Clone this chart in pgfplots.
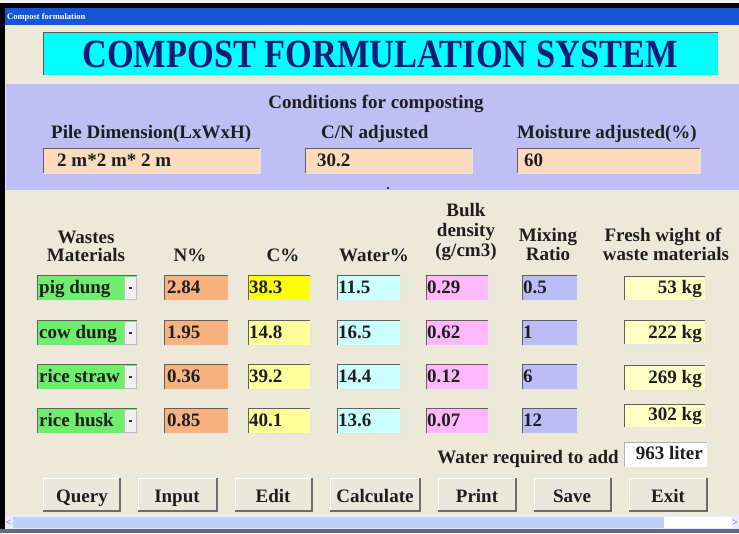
\documentclass[border=0pt]{standalone}
\usepackage{fontspec}
\setmainfont{Liberation Serif}
\usepackage{pgfplots}
\pgfplotsset{compat=1.18}
\definecolor{bg}{HTML}{ECE9D8}
\definecolor{titlebar}{HTML}{1656D6}
\definecolor{navy}{HTML}{101A78}
\definecolor{aqua}{HTML}{00FFFF}
\definecolor{panel}{HTML}{BFBFF5}
\definecolor{peach}{HTML}{FCDBBD}
\definecolor{combo}{HTML}{6DEE6D}
\definecolor{ncol}{HTML}{F8B27F}
\definecolor{cbright}{HTML}{FFFF00}
\definecolor{clight}{HTML}{FFFF9C}
\definecolor{wcol}{HTML}{CCFFFF}
\definecolor{bcol}{HTML}{FFB8FC}
\definecolor{mcol}{HTML}{BCBCF6}
\definecolor{fcol}{HTML}{FFFFC4}
\definecolor{btn}{HTML}{EAE7DB}
\definecolor{scroll}{HTML}{BCD2F4}
\definecolor{txt}{HTML}{1E1E1E}
\definecolor{bottomline}{HTML}{5A6E8C}
\newcommand{\valfont}{\fontsize{19}{19}\selectfont\bfseries}
\newcommand{\inbox}[5]{%
  \fill[#5] (#1,#2) rectangle (#3,#4);
  \draw[gray!75!black, line width=1pt] (#1,#4) -- (#1,#2) -- (#3,#2);
  \draw[white!80!gray, line width=0.8pt] (#3,#2) -- (#3,#4) -- (#1,#4);
}
\newcommand{\button}[4]{% x1 x2 xc label
  \fill[btn] (#1,478) rectangle (#2,511);
  \draw[white, line width=1pt] (#1,511) -- (#1,478) -- (#2,478);
  \draw[gray!85!black, line width=1.3pt] (#2,478) -- (#2,511) -- (#1,511);
  \node[anchor=base, inner sep=0pt, font=\valfont, text=txt] at (#3,502) {#4};
}
\begin{document}
\begin{tikzpicture}
\begin{axis}[
  hide axis, scale only axis,
  width=739pt, height=533pt,
  xmin=0, xmax=739, ymin=0, ymax=533,
  y dir=reverse, clip=false,
  nodes near coords style={inner sep=0pt, font=\valfont, text=txt},
]
% window frame
\fill[bg] (0,0) rectangle (739,533);
\fill[white!90!gray] (0,0) rectangle (739,3);
\fill[black] (0,3) rectangle (739,8);
\fill[titlebar] (5,8) rectangle (739,25);
\fill[black] (0,3) rectangle (5,533);
\node[anchor=base west, inner sep=0pt, text=white, font=\fontsize{8.5}{8.5}\selectfont\bfseries] at (7,19) {Compost formulation};
% title box
\fill[aqua] (43,32) rectangle (718,75);
\draw[gray!70!black, line width=1pt] (43,75) -- (43,32) -- (718,32);
\node[anchor=base, inner sep=0pt, text=navy, xscale=0.86, font=\fontsize{40}{40}\selectfont\bfseries] at (380,67) {COMPOST FORMULATION SYSTEM};
% conditions panel
\fill[panel] (6,84) rectangle (739,190);
\node[anchor=base, inner sep=0pt, font=\valfont, text=txt] at (376,108) {Conditions for composting};
\node[anchor=base west, inner sep=0pt, font=\valfont, text=txt] at (51,138) {Pile Dimension(LxWxH)};
\node[anchor=base west, inner sep=0pt, font=\valfont, text=txt] at (321,138) {C/N adjusted};
\node[anchor=base west, inner sep=0pt, font=\valfont, text=txt] at (517,138) {Moisture adjusted(\%)};
\inbox{43}{148}{260}{173}{peach}
\inbox{305}{148}{472}{173}{peach}
\inbox{517}{148}{700}{173}{peach}
\fill[teal!60!black] (387,187) rectangle (389,189);
\addplot[draw=none, mark=none, nodes near coords, point meta=explicit symbolic,
  nodes near coords style={anchor=base west}] coordinates {
  (57,166) [2 m*2 m* 2 m] (317,166) [30.2] (524,166) [60]};
% column headers
\node[anchor=base, inner sep=0pt, font=\valfont, text=txt] at (86,243) {Wastes};
\node[anchor=base, inner sep=0pt, font=\valfont, text=txt] at (86,261) {Materials};
\node[anchor=base, inner sep=0pt, font=\valfont, text=txt] at (190,261) {N\%};
\node[anchor=base, inner sep=0pt, font=\valfont, text=txt] at (283,261) {C\%};
\node[anchor=base, inner sep=0pt, font=\valfont, text=txt] at (374,261) {Water\%};
\node[anchor=base, inner sep=0pt, font=\valfont, text=txt] at (466,216) {Bulk};
\node[anchor=base, inner sep=0pt, font=\valfont, text=txt] at (466,236) {density};
\node[anchor=base, inner sep=0pt, font=\valfont, text=txt] at (466,256) {(g/cm3)};
\node[anchor=base, inner sep=0pt, font=\valfont, text=txt] at (548,241) {Mixing};
\node[anchor=base, inner sep=0pt, font=\valfont, text=txt] at (548,260) {Ratio};
\node[anchor=base, inner sep=0pt, font=\valfont, text=txt] at (663,241) {Fresh wight of};
\node[anchor=base, inner sep=0pt, font=\valfont, text=txt] at (666,260) {waste materials};
% row boxes
\inbox{37}{275}{137}{300}{combo}
\inbox{37}{320}{137}{345}{combo}
\inbox{37}{364}{137}{389}{combo}
\inbox{37}{408}{137}{433}{combo}
\inbox{164}{275}{228}{300}{ncol}
\inbox{164}{320}{228}{345}{ncol}
\inbox{164}{364}{228}{389}{ncol}
\inbox{164}{408}{228}{433}{ncol}
\inbox{248}{275}{310}{300}{cbright}
\inbox{248}{320}{310}{345}{clight}
\inbox{248}{364}{310}{389}{clight}
\inbox{248}{408}{310}{433}{clight}
\inbox{337}{275}{400}{300}{wcol}
\inbox{337}{320}{400}{345}{wcol}
\inbox{337}{364}{400}{389}{wcol}
\inbox{337}{408}{400}{433}{wcol}
\inbox{426}{275}{488}{300}{bcol}
\inbox{426}{320}{488}{345}{bcol}
\inbox{426}{364}{488}{389}{bcol}
\inbox{426}{408}{488}{433}{bcol}
\inbox{522}{275}{577}{300}{mcol}
\inbox{522}{320}{577}{345}{mcol}
\inbox{522}{364}{577}{389}{mcol}
\inbox{522}{408}{577}{433}{mcol}
\inbox{624}{276}{705}{300}{fcol}
\inbox{624}{320}{705}{344}{fcol}
\inbox{624}{365}{705}{390}{fcol}
\inbox{624}{404}{705}{427}{fcol}
% dropdown buttons
\fill[gray!12] (125,277) rectangle (136,299);
\fill[gray!12] (125,322) rectangle (136,344);
\fill[gray!12] (125,366) rectangle (136,388);
\fill[gray!12] (125,410) rectangle (136,432);
\draw[gray!50, line width=0.8pt] (124.5,277) -- (124.5,299) -- (136,299) -- (136,277);
\draw[gray!50, line width=0.8pt] (124.5,322) -- (124.5,344) -- (136,344) -- (136,322);
\draw[gray!50, line width=0.8pt] (124.5,366) -- (124.5,388) -- (136,388) -- (136,366);
\draw[gray!50, line width=0.8pt] (124.5,410) -- (124.5,432) -- (136,432) -- (136,410);
\draw[black!80, line width=1.2pt] (128.5,288) -- (132,288);
\draw[black!80, line width=1.2pt] (128.5,333) -- (132,333);
\draw[black!80, line width=1.2pt] (128.5,377) -- (132,377);
\draw[black!80, line width=1.2pt] (128.5,421) -- (132,421);
% values
\addplot[draw=none, mark=none, nodes near coords, point meta=explicit symbolic,
  nodes near coords style={anchor=base west}] coordinates {
  (39,293) [pig dung] (39,338) [cow dung] (39,382) [rice straw] (39,426) [rice husk]};
\addplot[draw=none, mark=none, nodes near coords, point meta=explicit symbolic,
  nodes near coords style={anchor=base west}] coordinates {
  (167,293) [2.84] (167,338) [1.95] (167,382) [0.36] (167,426) [0.85]};
\addplot[draw=none, mark=none, nodes near coords, point meta=explicit symbolic,
  nodes near coords style={anchor=base west}] coordinates {
  (249,293) [38.3] (249,338) [14.8] (249,382) [39.2] (249,426) [40.1]};
\addplot[draw=none, mark=none, nodes near coords, point meta=explicit symbolic,
  nodes near coords style={anchor=base west}] coordinates {
  (338,293) [11.5] (338,338) [16.5] (338,382) [14.4] (338,426) [13.6]};
\addplot[draw=none, mark=none, nodes near coords, point meta=explicit symbolic,
  nodes near coords style={anchor=base west}] coordinates {
  (427,293) [0.29] (427,338) [0.62] (427,382) [0.12] (427,426) [0.07]};
\addplot[draw=none, mark=none, nodes near coords, point meta=explicit symbolic,
  nodes near coords style={anchor=base west}] coordinates {
  (523,293) [0.5] (523,338) [1] (523,382) [6] (523,426) [12]};
\addplot[draw=none, mark=none, nodes near coords, point meta=explicit symbolic,
  nodes near coords style={anchor=base east}] coordinates {
  (702,293) [53 kg] (702,338) [222 kg] (702,383) [269 kg] (702,420) [302 kg]};
% water required
\node[anchor=base east, inner sep=0pt, font=\valfont, text=txt] at (619,463) {Water required to add};
\fill[white] (624,442) rectangle (707,467);
\draw[gray!60, line width=0.8pt] (624,467) -- (624,442) -- (707,442);
\addplot[draw=none, mark=none, nodes near coords, point meta=explicit symbolic,
  nodes near coords style={anchor=base east}] coordinates {(703,459) [963 liter]};
% buttons
\button{43}{120}{82}{Query}
\button{138}{217}{177}{Input}
\button{235}{312}{273}{Edit}
\button{330}{420}{375}{Calculate}
\button{438}{516}{477}{Print}
\button{534}{611}{572}{Save}
\button{629}{707}{668}{Exit}
% scroll bar
\fill[white!92!blue] (5,515) rectangle (739,529);
\fill[scroll] (13,517) rectangle (664,528);
\fill[white] (664,517) rectangle (732,528);
\node[inner sep=0pt, font=\fontsize{8}{8}\selectfont, text=gray!60!black] at (9,522.5) {$<$};
\node[inner sep=0pt, font=\fontsize{8}{8}\selectfont, text=gray!60!black] at (735,522.5) {$>$};
\fill[bottomline] (0,529) rectangle (739,533);
\end{axis}
\end{tikzpicture}
\end{document}
